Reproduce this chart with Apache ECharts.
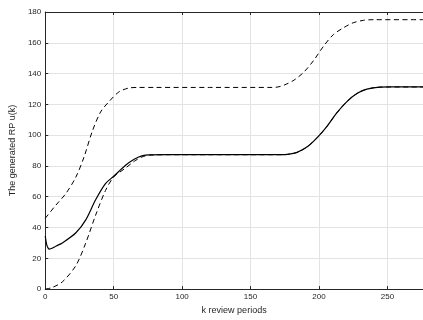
<!DOCTYPE html>
<html>
<head>
<meta charset="utf-8">
<script src="https://cdn.jsdelivr.net/npm/echarts@6/dist/echarts.min.js"></script>
<style>html,body{margin:0;padding:0;background:#fff}#c{width:423px;height:320px}</style>
</head>
<body>
<div id="c"></div>
<script>
// Solid curve u(k)
var kSolid = [0, 1, 2, 3, 5, 8, 12.5, 22.4, 29.6, 36.8, 44, 50, 58.5, 65, 70.6, 76, 90, 120, 150, 172, 177, 184, 191.4, 198.7, 206, 213, 220.4, 227.7, 235, 244.6, 252, 276];
var uSolid = [34.5, 29, 26.8, 26, 26.5, 28, 30, 36.6, 45, 58, 68.5, 73.3, 80.3, 84.3, 86.5, 87.2, 87.3, 87.3, 87.3, 87.3, 87.5, 88.8, 92.4, 98.4, 105.9, 114.4, 121.8, 127, 129.9, 131.2, 131.3, 131.3];
// Upper dashed bound
var kUpper = [0, 7.8, 15, 22.4, 28.4, 34.4, 40.4, 46.5, 53.7, 61, 68, 80, 120, 166, 170, 174.5, 181.7, 189, 196, 203.5, 210.7, 218, 225, 232.5, 240, 276];
var uUpper = [46, 54.6, 62, 72.8, 86, 102.6, 115, 121.7, 128, 130.6, 131, 131, 131, 131, 131.3, 132.5, 135.7, 141, 148.4, 158, 165.5, 169.8, 173, 174.6, 175, 175];
// Lower dashed bound
var kLower = [0, 5, 12.5, 22.4, 29.6, 36.8, 44, 50, 58.5, 65, 70.6, 76, 90, 120, 150, 172, 177, 184, 191.4, 198.7, 206, 213, 220.4, 227.7, 235, 244.6, 252, 276];
var uLower = [0, 1, 4.7, 15.3, 30, 48, 64, 72.8, 78.5, 83, 85.8, 87, 87.3, 87.3, 87.3, 87.3, 87.5, 88.8, 92.4, 98.4, 105.9, 114.4, 121.8, 127, 129.9, 131.2, 131.3, 131.3];

function pairs(ks, vs){ return ks.map(function(k,i){ return [k, vs[i]]; }); }

var FONT = 'Liberation Sans';
var chart = echarts.init(document.getElementById('c'), null, {renderer:'canvas'});
var axisCol = '#262626';
chart.setOption({
  animation: false,
  backgroundColor: '#fff',
  grid: {left: 43, right: 0, top: 12, bottom: 26, containLabel: false},
  xAxis: [{
    type: 'value', min: 0, max: 276, interval: 50, position: 'bottom',
    name: 'k review periods', nameLocation: 'middle', nameGap: 14,
    nameTextStyle: {fontFamily: FONT, fontSize: 9, color: '#262626'},
    axisLine: {show: true, onZero: false, lineStyle: {color: axisCol, width: 1}},
    axisTick: {show: true, inside: true, length: 3, lineStyle: {color: axisCol}},
    axisLabel: {fontFamily: FONT, fontSize: 8, color: '#262626', margin: 4, showMaxLabel: false},
    splitLine: {show: true, lineStyle: {color: '#e3e3e3', width: 1}}
  }, {
    type: 'value', min: 0, max: 276, interval: 50, position: 'top',
    axisLine: {show: true, onZero: false, lineStyle: {color: axisCol, width: 1}},
    axisTick: {show: true, inside: true, length: 3, lineStyle: {color: axisCol}},
    axisLabel: {show: false}, splitLine: {show: false}
  }],
  yAxis: [{
    type: 'value', min: 0, max: 180, interval: 20,
    name: 'The generated RP u(k)', nameLocation: 'middle', nameGap: 18, nameRotate: 90,
    nameTextStyle: {fontFamily: FONT, fontSize: 9, color: '#262626'},
    axisLine: {show: true, onZero: false, lineStyle: {color: axisCol, width: 1}},
    axisTick: {show: true, inside: true, length: 3, lineStyle: {color: axisCol}},
    axisLabel: {fontFamily: FONT, fontSize: 8, color: '#262626', margin: 4},
    splitLine: {show: true, lineStyle: {color: '#e3e3e3', width: 1}}
  }],
  series: [{
    type: 'line', name: 'upper', data: pairs(kUpper, uUpper), showSymbol: false,
    smooth: 0.3,
    lineStyle: {color: '#000', width: 1, type: [5, 3.5]}
  }, {
    type: 'line', name: 'lower', data: pairs(kLower, uLower), showSymbol: false,
    smooth: 0.3,
    lineStyle: {color: '#000', width: 1, type: [5, 3.5]}
  }, {
    type: 'line', name: 'u', data: pairs(kSolid, uSolid), showSymbol: false,
    smooth: 0.3,
    lineStyle: {color: '#000', width: 1.2}
  }]
});
</script>
</body>
</html>
